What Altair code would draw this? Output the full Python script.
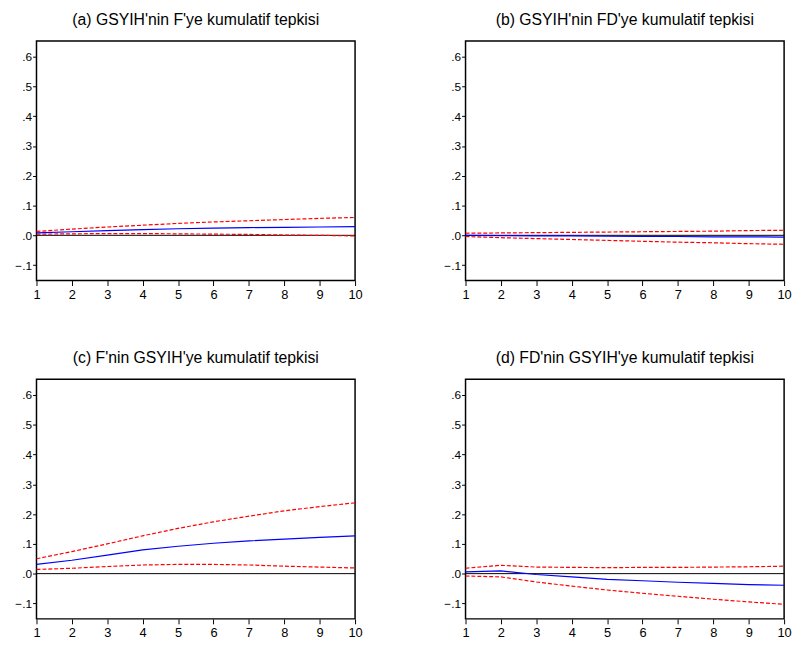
import altair as alt
import pandas as pd

periods = [1, 2, 3, 4, 5, 6, 7, 8, 9, 10]

titles = [
    "(a) GSYIH'nin F'ye kumulatif tepkisi",
    "(b) GSYIH'nin FD'ye kumulatif tepkisi",
    "(c) F'nin GSYIH'ye kumulatif tepkisi",
    "(d) FD'nin GSYIH'ye kumulatif tepkisi",
]

a_resp = [0.008, 0.012, 0.016, 0.019, 0.022, 0.024, 0.026, 0.027, 0.028, 0.029]
a_up = [0.013, 0.021, 0.028, 0.034, 0.040, 0.045, 0.049, 0.053, 0.057, 0.060]
a_lo = [0.004, 0.005, 0.006, 0.006, 0.005, 0.004, 0.003, 0.001, 0.000, -0.002]

b_resp = [0.000, -0.001, -0.002, -0.002, -0.003, -0.004, -0.004, -0.005, -0.005, -0.006]
b_up = [0.007, 0.008, 0.009, 0.010, 0.011, 0.012, 0.013, 0.014, 0.016, 0.017]
b_lo = [-0.004, -0.008, -0.011, -0.014, -0.017, -0.020, -0.023, -0.025, -0.028, -0.030]

c_resp = [0.031, 0.045, 0.062, 0.080, 0.092, 0.102, 0.110, 0.116, 0.122, 0.127]
c_up = [0.050, 0.074, 0.100, 0.127, 0.152, 0.174, 0.193, 0.211, 0.225, 0.238]
c_lo = [0.014, 0.018, 0.024, 0.029, 0.031, 0.031, 0.029, 0.025, 0.022, 0.019]

d_resp = [0.006, 0.009, -0.003, -0.011, -0.019, -0.024, -0.029, -0.033, -0.037, -0.039]
d_up = [0.018, 0.028, 0.022, 0.021, 0.020, 0.021, 0.021, 0.022, 0.023, 0.025]
d_lo = [-0.008, -0.011, -0.028, -0.042, -0.055, -0.066, -0.076, -0.086, -0.095, -0.103]

y_ticks = [-0.1, 0.0, 0.1, 0.2, 0.3, 0.4, 0.5, 0.6]
y_domain = [-0.152, 0.653]

panels = [
    (titles[0], a_resp, a_up, a_lo),
    (titles[1], b_resp, b_up, b_lo),
    (titles[2], c_resp, c_up, c_lo),
    (titles[3], d_resp, d_up, d_lo),
]

W, H = 323, 243
FONT = "Liberation Sans"


def make_panel(title, resp, up, lo):
    rows = []
    for i, p in enumerate(periods):
        rows.append({"period": p, "value": resp[i], "series": "resp"})
        rows.append({"period": p, "value": up[i], "series": "up"})
        rows.append({"period": p, "value": lo[i], "series": "lo"})
    df = pd.DataFrame(rows)

    yscale = alt.Scale(domain=y_domain, nice=False, zero=False)
    x = alt.X(
        "period:Q",
        scale=alt.Scale(domain=[1, 10], nice=False, zero=False),
        axis=alt.Axis(values=periods, title=None, tickSize=5, labelPadding=3,
                      domain=False, grid=False, labelFlush=False, labelOverlap=False,
                      labelFontSize=13, labelColor="black", tickColor="black",
                      labelFont=FONT),
    )
    y = alt.Y(
        "value:Q",
        scale=yscale,
        axis=alt.Axis(values=y_ticks, title=None, tickSize=4, labelPadding=1,
                      domain=False, grid=False, labelOverlap=False,
                      labelExpr="replace(format(datum.value, '.1f'), '0.', '.')",
                      labelFontSize=12, labelColor="black", tickColor="black",
                      labelFont=FONT),
    )

    zero = alt.Chart(pd.DataFrame({"value": [0.0]})).mark_rule(
        color="black", strokeWidth=1
    ).encode(y=y)

    resp_line = alt.Chart(df).transform_filter(
        alt.datum.series == "resp"
    ).mark_line(color="#0000ff", strokeWidth=1.2).encode(x=x, y=y)

    band_lines = alt.Chart(df).transform_filter(
        alt.datum.series != "resp"
    ).mark_line(color="#ff0000", strokeWidth=1.2, strokeDash=[4, 2]).encode(
        x=x, y=y, detail="series:N"
    )

    return alt.layer(zero, band_lines, resp_line).properties(
        width=W, height=H,
        title=alt.TitleParams(title, fontSize=16, font=FONT,
                              fontWeight="normal", color="black", offset=13),
    )


row1 = alt.hconcat(make_panel(*panels[0]), make_panel(*panels[1]), spacing=81)
row2 = alt.hconcat(make_panel(*panels[2]), make_panel(*panels[3]), spacing=81)
chart = alt.vconcat(row1, row2, spacing=48).properties(
    padding={"left": 14, "top": 7, "right": 0, "bottom": 0},
    background="white",
).configure_view(
    stroke="black", strokeWidth=1.5
).configure_axis(
    labelOverlap=False
)

chart.save("out.html", embed_options={"renderer": "svg", "actions": False})
